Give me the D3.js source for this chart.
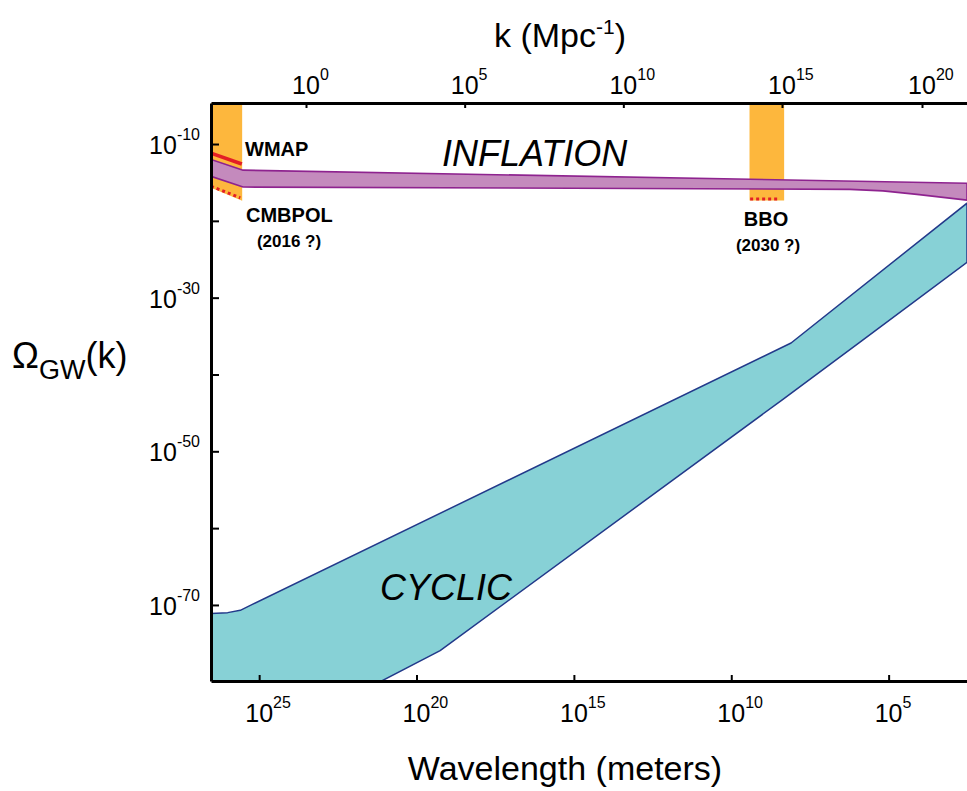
<!DOCTYPE html>
<html><head><meta charset="utf-8">
<script src="https://cdn.jsdelivr.net/npm/d3@7"></script>
<style>body{margin:0;background:#fff;} svg{display:block;font-family:"Liberation Sans",Arial,Helvetica,sans-serif;}</style>
</head><body><svg id="c" width="967" height="791"></svg>
<script>
// ---- data (log10 values) ----
const lambdaTicks = [25, 20, 15, 10, 5];          // wavelength (m), exponents
const kTicks = [0, 5, 10, 15, 20];                // k (Mpc^-1), exponents
const omegaMajorTicks = [-10, -30, -50, -70];
const omegaMinorTicks = [-20, -40, -60];

const inflationUpperLogLambda = [26.53, 25.51, 2.51];
const inflationUpperLogOmega  = [-12.0, -13.4, -15.1];
const inflationLowerLogLambda = [26.53, 25.51, 6.23, 5.18, 4.10, 2.51];
const inflationLowerLogOmega  = [-14.2, -15.6, -15.9, -16.1, -16.55, -17.3];

const cyclicUpperLogLambda = [26.53, 26.0, 25.6, 25.2, 8.1, 2.51];
const cyclicUpperLogOmega  = [-71.1, -71.0, -70.7, -69.9, -35.9, -17.7];
const cyclicLowerLogLambda = [26.53, 19.25, 8.38, 5.91, 2.51];
const cyclicLowerLogOmega  = [-91.4, -75.95, -43.3, -35.8, -25.4];

const wmapLogLambda   = [26.53, 25.55];
const wmapLogOmega    = [-11.2, -12.6];
const cmbpolLogLambda = [26.53, 25.6];
const cmbpolLogOmega  = [-15.5, -17.0];
const cmbBandLogLambda = [26.53, 25.54];
const cmbBandFloorLogOmega = [-15.7, -17.4];
const bboBandLogLambda = [9.42, 8.32];
const bboBandFloorLogOmega = [-17.36, -17.36];
const bboLogLambda = [9.40, 8.45];
const bboLogOmega  = [-17.16, -17.16];

// ---- scales ----
const L = 211, R = 967, T = 103, B = 681;
const x = d3.scaleLinear().domain([26.53, 2.51]).range([L, R]);
const y = d3.scaleLinear().domain([-4.66, -79.9]).range([T, B]);
const xk = d3.scaleLinear().domain([0, 15, 20]).range([306, 782, 922]);

const svg = d3.select("#c");
svg.append("defs").append("clipPath").attr("id", "plot")
  .append("rect").attr("x", L).attr("y", T).attr("width", R - L).attr("height", B - T);
const g = svg.append("g").attr("clip-path", "url(#plot)");

const zip = (a, b) => a.map((v, i) => [x(v), y(b[i])]);
const line = d3.line();
const closed = d3.line().curve(d3.curveLinearClosed);

const ORANGE = "#fdb73d", RED = "#e31f26";

// orange detector bands
function band(lams, floors) {
  const top = y.domain()[0];
  const pts = [[x(lams[0]), y(top)], [x(lams[1]), y(top)], [x(lams[1]), y(floors[1])], [x(lams[0]), y(floors[0])]];
  g.append("path").attr("d", closed(pts)).attr("fill", ORANGE);
}
band(cmbBandLogLambda, cmbBandFloorLogOmega);
band(bboBandLogLambda, bboBandFloorLogOmega);

// inflation band
const infl = zip(inflationUpperLogLambda, inflationUpperLogOmega)
  .concat(zip(inflationLowerLogLambda, inflationLowerLogOmega).reverse());
g.append("path").attr("d", closed(infl)).attr("fill", "#c48abd")
  .attr("stroke", "#8e238f").attr("stroke-width", 1.6).attr("stroke-linejoin", "round");

// detector sensitivity lines
g.append("path").attr("d", line(zip(wmapLogLambda, wmapLogOmega)))
  .attr("stroke", RED).attr("stroke-width", 3.5).attr("fill", "none");
g.append("path").attr("d", line(zip(cmbpolLogLambda, cmbpolLogOmega)))
  .attr("stroke", RED).attr("stroke-width", 3).attr("stroke-dasharray", "3,3").attr("fill", "none");
g.append("path").attr("d", line(zip(bboLogLambda, bboLogOmega)))
  .attr("stroke", RED).attr("stroke-width", 3).attr("stroke-dasharray", "3,3").attr("fill", "none");

// cyclic band
const cyc = zip(cyclicUpperLogLambda, cyclicUpperLogOmega)
  .concat(zip(cyclicLowerLogLambda, cyclicLowerLogOmega).reverse());
g.append("path").attr("d", closed(cyc)).attr("fill", "#87d1d6")
  .attr("stroke", "#22398a").attr("stroke-width", 1.5).attr("stroke-linejoin", "round");

// ---- axes ----
function styleAxis(sel) {
  sel.select(".domain").attr("stroke", "#000").attr("stroke-width", 3);
  sel.selectAll(".tick line").attr("stroke", "#000").attr("stroke-width", 2);
  sel.selectAll(".tick text").remove();
}
svg.append("g").attr("transform", `translate(${L},0)`)
  .call(d3.axisLeft(y).tickValues(omegaMajorTicks.concat(omegaMinorTicks)).tickSize(-8).tickSizeOuter(0))
  .call(styleAxis);
svg.append("g").attr("transform", `translate(0,${B})`)
  .call(d3.axisBottom(x).tickValues(lambdaTicks).tickSize(-6).tickSizeOuter(0))
  .call(styleAxis);
svg.append("g").attr("transform", `translate(0,${T})`)
  .call(d3.axisTop(x).tickValues([]).tickSizeOuter(0)).call(styleAxis);
svg.append("g").attr("transform", `translate(0,${T})`)
  .call(d3.axisTop(xk).tickValues(kTicks).tickSize(-5).tickSizeOuter(0))
  .call(styleAxis).select(".domain").remove();

// power-of-ten labels
function pow10(px, baseY, exp, anchor) {
  const t = svg.append("text").attr("y", baseY).attr("font-size", 25).attr("fill", "#000");
  t.append("tspan").text("10");
  t.append("tspan").attr("font-size", 16).attr("dy", -14).text(exp);
  const w10 = t.select("tspan").node().getComputedTextLength();
  const wAll = t.node().getComputedTextLength();
  if (anchor === "end") t.attr("x", px - wAll);
  else t.attr("x", px - w10 / 2);
}
lambdaTicks.forEach(e => pow10(x(e), 722, String(e)));
kTicks.forEach(e => pow10(xk(e), 94, String(e)));
omegaMajorTicks.forEach(e => pow10(200, y(e) + 10, String(e), "end"));

// axis titles
const kt = svg.append("text").attr("x", 560).attr("y", 47).attr("text-anchor", "middle")
  .attr("font-size", 34);
kt.append("tspan").text("k (Mpc");
kt.append("tspan").attr("font-size", 21).attr("dy", -13).text("-1");
kt.append("tspan").attr("dy", 13).text(")");

svg.append("text").attr("x", 565).attr("y", 780).attr("text-anchor", "middle")
  .attr("font-size", 34).text("Wavelength (meters)");

const yt = svg.append("text").attr("x", 12).attr("y", 368).attr("font-size", 36);
yt.append("tspan").text("Ω");
yt.append("tspan").attr("font-size", 27).attr("dy", 11).text("GW");
yt.append("tspan").attr("dy", -11).text("(k)");

// annotations
svg.append("text").attr("x", 442).attr("y", 166).attr("font-size", 36).attr("font-style", "italic").text("INFLATION");
svg.append("text").attr("x", 380).attr("y", 600).attr("font-size", 36).attr("font-style", "italic").text("CYCLIC");
const bold = (tx, px, py, fs, anchor) => svg.append("text").attr("x", px).attr("y", py)
  .attr("font-size", fs).attr("font-weight", "bold").attr("text-anchor", anchor || "start").text(tx);
bold("WMAP", 245, 156, 20);
bold("CMBPOL", 246, 222, 20);
bold("(2016 ?)", 289, 247, 17, "middle");
bold("BBO", 766, 226, 20, "middle");
bold("(2030 ?)", 768, 251, 17, "middle");
</script></body></html>
